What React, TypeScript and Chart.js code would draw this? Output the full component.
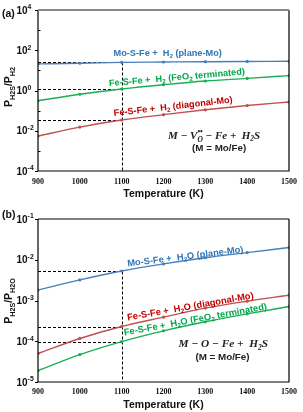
import React, { useEffect, useRef } from "react";
import { Chart, registerables } from "chart.js";

Chart.register(...registerables);

// ---------- data ----------
const temperatures = [900, 1000, 1100, 1200, 1300, 1400, 1500];
const xTickStep = 100;
const refTemperature = 1100;

// panel (a): P_H2S / P_H2
const aPlaneMo = [21, 22.6, 25, 26, 27, 27.7, 28.3];
const aFeO2Term = [0.31, 0.65, 1.19, 1.94, 2.97, 4.0, 5.5];
const aDiagonalMo = [0.0055, 0.0152, 0.034, 0.063, 0.11, 0.18, 0.27];
const aYTicks = [1e-4, 1e-3, 1e-2, 1e-1, 1e0, 1e1, 1e2, 1e3, 1e4];
const aYLabelExps = [-4, -2, 0, 2, 4];

// panel (b): P_H2S / P_H2O
const bPlaneMo = [1.8e-3, 3.2e-3, 5.3e-3, 7.9e-3, 1.12e-2, 1.5e-2, 2.0e-2];
const bDiagonalMo = [5.0e-5, 1.17e-4, 2.3e-4, 3.9e-4, 6.5e-4, 9.6e-4, 1.35e-3];
const bFeO2Term = [1.9e-5, 4.7e-5, 9.8e-5, 1.8e-4, 3.0e-4, 4.7e-4, 7.1e-4];
const bYTicks = [1e-5, 1e-4, 1e-3, 1e-2, 1e-1];
const bYLabelExps = [-5, -4, -3, -2, -1];

// ---------- styles ----------
const BLUE = "#4a7ebb";
const GREEN = "#1aaf54";
const RED = "#c0504d";
const BLUE_T = "#2e75b6";
const GREEN_T = "#00a84a";
const RED_T = "#c00000";
const SANS = "'Liberation Sans', Arial, sans-serif";
const SERIF = "'Liberation Serif', 'Times New Roman', serif";

type Seg = { text: string; kind?: "sub" | "sup" | "subsup"; sup?: string };

function drawRich(
  ctx: CanvasRenderingContext2D,
  segs: Seg[],
  x: number,
  y: number,
  o: { size: number; family: string; weight?: string; style?: string; color: string; angle?: number; align?: "left" | "center" | "right"; subScale?: number }
) {
  const font = (sz: number) => `${o.style || "normal"} ${o.weight || "bold"} ${sz}px ${o.family}`;
  const subSize = o.size * (o.subScale || 0.68);
  const widths = segs.map((s) => {
    if (s.kind === "subsup") {
      ctx.font = font(subSize);
      return Math.max(ctx.measureText(s.text).width, ctx.measureText(s.sup || "").width);
    }
    ctx.font = font(s.kind ? subSize : o.size);
    return ctx.measureText(s.text).width;
  });
  const total = widths.reduce((a, b) => a + b, 0);
  ctx.save();
  ctx.translate(x, y);
  ctx.rotate(((o.angle || 0) * Math.PI) / 180);
  ctx.fillStyle = o.color;
  ctx.textAlign = "left";
  ctx.textBaseline = "alphabetic";
  let cx = o.align === "left" ? 0 : o.align === "right" ? -total : -total / 2;
  const base = o.size * 0.36;
  segs.forEach((s, i) => {
    if (!s.kind) {
      ctx.font = font(o.size);
      ctx.fillText(s.text, cx, base);
    } else if (s.kind === "sub") {
      ctx.font = font(subSize);
      ctx.fillText(s.text, cx, base + o.size * 0.22);
    } else if (s.kind === "sup") {
      ctx.font = font(subSize);
      ctx.fillText(s.text, cx, base - o.size * 0.42);
    } else {
      ctx.font = font(subSize);
      ctx.fillText(s.text, cx, base + o.size * 0.25);
      ctx.fillText(s.sup || "", cx, base - o.size * 0.5);
    }
    cx += widths[i];
  });
  ctx.restore();
}

type Note = { segs: Seg[]; t: number; v: number; angle: number; color: string; size: number; family: string; style?: string };

type PanelCfg = {
  letter: string;
  letterY: number;
  yTitle: Seg[];
  yTitleY: number;
  yTicks: number[];
  labelExps: number[];
  notes: Note[];
  topColor: string;
};

function makePanelPlugin(cfg: PanelCfg) {
  return {
    id: "panelDecor" + cfg.letter,
    beforeDatasetsDraw(chart: any) {
      const ctx: CanvasRenderingContext2D = chart.ctx;
      const xs = chart.scales.x;
      const ys = chart.scales.y;
      const idx = temperatures.indexOf(refTemperature);
      const xRef = Math.round(xs.getPixelForValue(refTemperature)) + 0.5;
      const x0 = xs.getPixelForValue(temperatures[0]);
      ctx.save();
      ctx.strokeStyle = "#000";
      ctx.lineWidth = 1;
      ctx.setLineDash([3, 2]);
      let minY = chart.chartArea.bottom;
      chart.data.datasets.forEach((ds: any) => {
        const pt = ds.data[idx];
        const val = typeof pt === "number" ? pt : pt.y;
        const py = Math.round(ys.getPixelForValue(val)) + 0.5;
        minY = Math.min(minY, py);
        ctx.beginPath();
        ctx.moveTo(x0, py);
        ctx.lineTo(xRef, py);
        ctx.stroke();
      });
      ctx.beginPath();
      ctx.moveTo(xRef, minY);
      ctx.lineTo(xRef, chart.chartArea.bottom);
      ctx.stroke();
      ctx.restore();
    },
    afterDraw(chart: any) {
      const ctx: CanvasRenderingContext2D = chart.ctx;
      const { left, right, top, bottom } = chart.chartArea;
      const xs = chart.scales.x;
      const ys = chart.scales.y;
      // frame
      ctx.save();
      ctx.strokeStyle = "#000";
      ctx.lineWidth = 1.2;
      ctx.beginPath();
      ctx.moveTo(left, top);
      ctx.lineTo(left, bottom);
      ctx.lineTo(right, bottom);
      ctx.lineTo(right, top);
      ctx.stroke();
      ctx.strokeStyle = cfg.topColor;
      ctx.lineWidth = cfg.topColor === "#000" ? 1.2 : 2;
      ctx.beginPath();
      ctx.moveTo(left, top);
      ctx.lineTo(right, top);
      ctx.stroke();
      // y tick marks
      ctx.strokeStyle = "#000";
      ctx.lineWidth = 1;
      cfg.yTicks.forEach((v) => {
        const py = Math.round(ys.getPixelForValue(v)) + 0.5;
        const exp = Math.round(Math.log10(v));
        ctx.beginPath();
        if (cfg.labelExps.includes(exp)) {
          ctx.moveTo(left - 3, py);
          ctx.lineTo(left, py);
        } else {
          ctx.moveTo(left, py);
          ctx.lineTo(left + 2.5, py);
        }
        ctx.stroke();
      });
      ctx.restore();
      // y tick labels
      cfg.labelExps.forEach((e) => {
        const py = ys.getPixelForValue(Math.pow(10, e));
        drawRich(ctx, [{ text: "10" }, { text: String(e), kind: "sup" }], 16.5, py, {
          size: 10,
          family: SANS,
          color: "#111",
          align: "left",
        });
      });
      // axis titles
      drawRich(ctx, [{ text: "Temperature (K)" }], (left + right) / 2, bottom + 22, {
        size: 10.5,
        family: SANS,
        color: "#111",
      });
      drawRich(ctx, cfg.yTitle, 8.5, cfg.yTitleY, {
        size: 10.5,
        family: SANS,
        color: "#111",
        angle: -90,
      });
      drawRich(ctx, [{ text: "(" + cfg.letter + ")" }], 2, cfg.letterY, {
        size: 10.5,
        family: SANS,
        color: "#111",
        align: "left",
      });
      // annotations
      cfg.notes.forEach((n) => {
        drawRich(ctx, n.segs, xs.getPixelForValue(n.t), ys.getPixelForValue(n.v), {
          size: n.size,
          family: n.family,
          style: n.style,
          color: n.color,
          angle: n.angle,
        });
      });
    },
  };
}

function seriesDataset(values: number[], color: string) {
  return {
    data: temperatures.map((t, i) => ({ x: t, y: values[i] })),
    borderColor: color,
    backgroundColor: color,
    borderWidth: 1.4,
    pointRadius: 1.6,
    pointHoverRadius: 1.6,
    pointBorderWidth: 0,
    cubicInterpolationMode: "monotone" as const,
    fill: false,
  };
}

function makeConfig(opts: {
  series: { values: number[]; color: string }[];
  yMin: number;
  yMax: number;
  yTicks: number[];
  padTop: number;
  xAxisHeight: number;
  tickPad: number;
  plugin: any;
}) {
  return {
    type: "line" as const,
    data: { datasets: opts.series.map((s) => seriesDataset(s.values, s.color)) },
    options: {
      responsive: false,
      animation: false as const,
      devicePixelRatio: 1,
      layout: { padding: { left: 0, right: 14, top: opts.padTop, bottom: 0 } },
      plugins: { legend: { display: false }, tooltip: { enabled: false }, title: { display: false } },
      scales: {
        x: {
          type: "linear" as const,
          min: temperatures[0],
          max: temperatures[temperatures.length - 1],
          ticks: {
            stepSize: xTickStep,
            color: "#111",
            padding: opts.tickPad,
            maxRotation: 0,
            autoSkip: false,
            callback: (v: any) => String(v),
            font: { family: SERIF, weight: "bold" as const, size: 8 },
          },
          grid: { display: false, drawTicks: false },
          border: { display: false },
          afterFit: (s: any) => {
            s.height = opts.xAxisHeight;
          },
        },
        y: {
          type: "logarithmic" as const,
          min: opts.yMin,
          max: opts.yMax,
          ticks: { display: false },
          grid: { display: false, drawTicks: false },
          border: { display: false },
          afterFit: (s: any) => {
            s.width = 38;
          },
          afterBuildTicks: (s: any) => {
            s.ticks = opts.yTicks.map((v) => ({ value: v }));
          },
        },
      },
    },
    plugins: [opts.plugin],
  };
}

const h2Label = (pre: string, post: string, extraO: boolean, mid?: Seg[]): Seg[] => [
  { text: pre },
  { text: "2", kind: "sub" },
  ...(extraO ? [{ text: "O" }] : []),
  ...(mid || [{ text: post }]),
];

export default function App() {
  const refA = useRef<HTMLCanvasElement>(null);
  const refB = useRef<HTMLCanvasElement>(null);

  useEffect(() => {
    document.body.style.margin = "0";
    const pluginA = makePanelPlugin({
      letter: "a",
      letterY: 13.5,
      yTitle: [
        { text: "P" },
        { text: "H2S", kind: "sub" },
        { text: "/P" },
        { text: "H2", kind: "sub" },
      ],
      yTitleY: 87,
      yTicks: aYTicks,
      labelExps: aYLabelExps,
      topColor: "#8a8a8a",
      notes: [
        { segs: h2Label("Mo-S-Fe +  H", " (plane-Mo)", false), t: 1210, v: 76, angle: 0, color: BLUE_T, size: 9.2, family: SANS },
        {
          segs: h2Label("Fe-S-Fe +  H", "", false, [{ text: " (FeO" }, { text: "2", kind: "sub" }, { text: " terminated)" }]),
          t: 1232, v: 4.7, angle: -5, color: GREEN_T, size: 9.2, family: SANS,
        },
        { segs: h2Label("Fe-S-Fe +  H", " (diagonal-Mo)", false), t: 1223, v: 0.17, angle: -6.5, color: RED_T, size: 9.2, family: SANS },
        {
          segs: [{ text: "M − V" }, { text: "O", kind: "subsup", sup: "••" }, { text: " − Fe +  H" }, { text: "2", kind: "sub" }, { text: "S" }],
          t: 1321, v: 0.0061, angle: 0, color: "#222", size: 11, family: SERIF, style: "italic",
        },
        { segs: [{ text: "(M = Mo/Fe)" }], t: 1333, v: 0.00155, angle: 0, color: "#222", size: 9.8, family: SANS },
      ],
    });
    const pluginB = makePanelPlugin({
      letter: "b",
      letterY: 9.5,
      yTitle: [
        { text: "P" },
        { text: "H2S", kind: "sub" },
        { text: "/P" },
        { text: "H2O", kind: "sub" },
      ],
      yTitleY: 96,
      yTicks: bYTicks,
      labelExps: bYLabelExps,
      topColor: "#000",
      notes: [
        { segs: h2Label("Mo-S-Fe +  H", " (plane-Mo)", true), t: 1252, v: 0.0123, angle: -7, color: BLUE_T, size: 9.3, family: SANS },
        { segs: h2Label("Fe-S-Fe +  H", " (diagonal-Mo)", true), t: 1264, v: 7.3e-4, angle: -10, color: RED_T, size: 9.3, family: SANS },
        {
          segs: h2Label("Fe-S-Fe +  H", "", true, [{ text: " (FeO" }, { text: "2", kind: "sub" }, { text: " terminated)" }]),
          t: 1276, v: 3.5e-4, angle: -10.5, color: GREEN_T, size: 9.3, family: SANS,
        },
        {
          segs: [{ text: "M − O − Fe +  H" }, { text: "2", kind: "sub" }, { text: "S" }],
          t: 1343, v: 8.9e-5, angle: 0, color: "#222", size: 11.3, family: SERIF, style: "italic",
        },
        { segs: [{ text: "(M = Mo/Fe)" }], t: 1341, v: 4.3e-5, angle: 0, color: "#222", size: 9.8, family: SANS },
      ],
    });

    const chartA = new Chart(
      refA.current!,
      makeConfig({
        series: [
          { values: aPlaneMo, color: BLUE },
          { values: aFeO2Term, color: GREEN },
          { values: aDiagonalMo, color: RED },
        ],
        yMin: aYTicks[0],
        yMax: aYTicks[aYTicks.length - 1],
        yTicks: aYTicks,
        padTop: 10,
        xAxisHeight: 34,
        tickPad: 6,
        plugin: pluginA,
      }) as any
    );
    const chartB = new Chart(
      refB.current!,
      makeConfig({
        series: [
          { values: bPlaneMo, color: BLUE },
          { values: bDiagonalMo, color: RED },
          { values: bFeO2Term, color: GREEN },
        ],
        yMin: bYTicks[0],
        yMax: bYTicks[bYTicks.length - 1],
        yTicks: bYTicks,
        padTop: 14,
        xAxisHeight: 30,
        tickPad: 5,
        plugin: pluginB,
      }) as any
    );
    return () => {
      chartA.destroy();
      chartB.destroy();
    };
  }, []);

  return (
    <div style={{ position: "relative", width: 303, height: 412, background: "#fff", overflow: "hidden" }}>
      <canvas ref={refA} width={303} height={205} style={{ position: "absolute", left: 0, top: 0 }} />
      <canvas ref={refB} width={303} height={207} style={{ position: "absolute", left: 0, top: 205 }} />
    </div>
  );
}
